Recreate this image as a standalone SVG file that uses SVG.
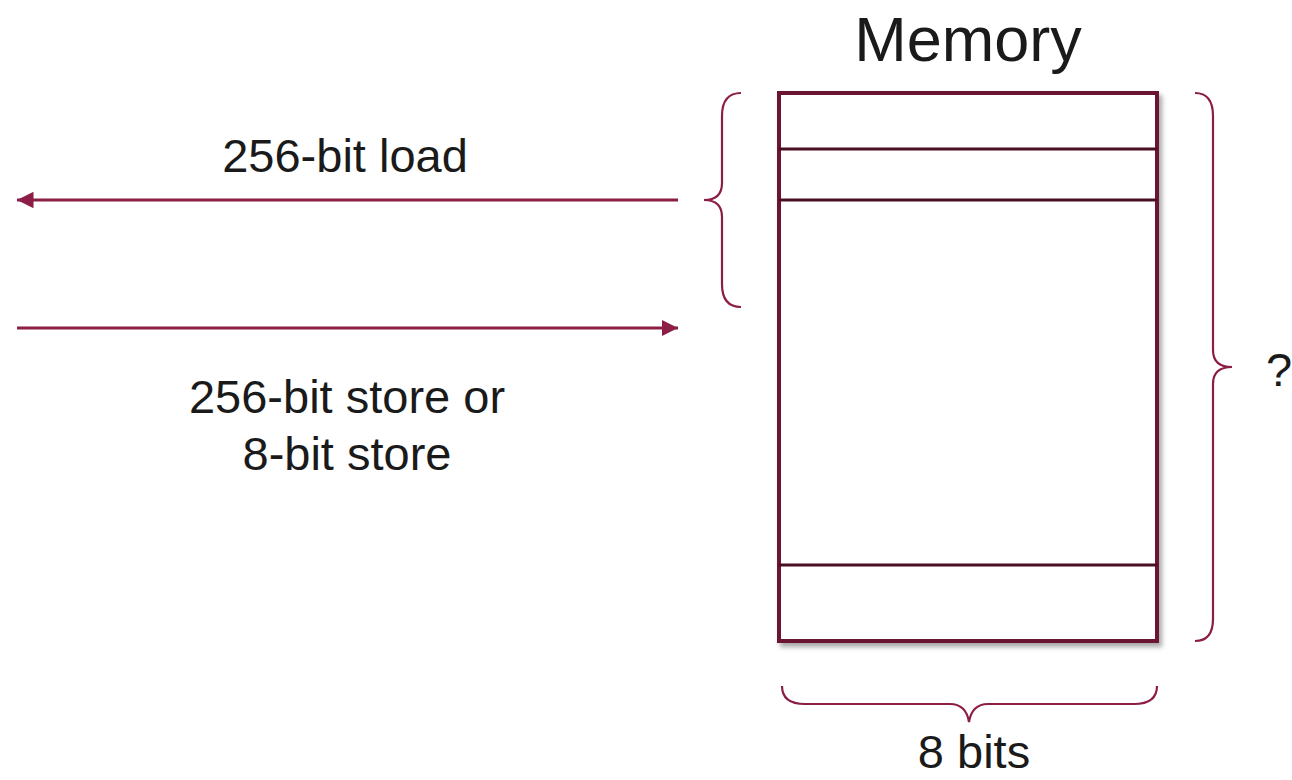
<svg xmlns="http://www.w3.org/2000/svg" width="1292" height="780" viewBox="0 0 1292 780">
  <style>
    .label { font-family: "Liberation Sans", Arial, sans-serif; fill: #1a1a1a; }
    .brace { fill: none; stroke: #8c1d47; stroke-width: 2.2; }
    .wire { fill: none; stroke: #8c1d47; stroke-width: 3; }
    .cell { fill: #ffffff; stroke: #6a1432; stroke-width: 4; }
    .row { stroke: #4a0f22; stroke-width: 3.2; }
  </style>
  <defs>
    <marker id="arrow" viewBox="0 0 10 10" refX="10" refY="5" markerWidth="5.5" markerHeight="6" markerUnits="strokeWidth" orient="auto">
      <path d="M0,0 L10,5 L0,10 z" fill="#8c1d47"/>
    </marker>
    <filter id="shadow" x="-5%" y="-5%" width="115%" height="115%">
      <feDropShadow dx="3" dy="4" stdDeviation="2.5" flood-color="#000" flood-opacity="0.35"/>
    </filter>
  </defs>

  <text class="label" x="968" y="61" font-size="63" text-anchor="middle">Memory</text>

  <!-- memory array -->
  <g id="memory">
    <rect class="cell" x="779" y="93" width="378" height="548" filter="url(#shadow)"/>
    <line class="row" x1="779" y1="149" x2="1157" y2="149"/>
    <line class="row" x1="779" y1="200" x2="1157" y2="200"/>
    <line class="row" x1="779" y1="565" x2="1157" y2="565"/>
  </g>

  <!-- braces -->
  <g id="load-brace">
    <path class="brace" d="M741,93 C728,93 722,101 722,116 L722,183 C722,194 716,200 704,200 C716,200 722,206 722,217 L722,284 C722,299 728,307 741,307"/>
  </g>
  <g id="height-brace">
    <path class="brace" d="M1195,93 C1207,93 1213,101 1213,116 L1213,350 C1213,361 1219,367 1232,367 C1219,367 1213,373 1213,384 L1213,619 C1213,634 1207,641 1195,641"/>
    <text class="label" x="1279" y="386" font-size="47" text-anchor="middle">?</text>
  </g>
  <g id="width-brace">
    <path class="brace" d="M782,686 C782,698 790,704 805,704 L950,704 C961,704 967,710 969,722 C971,710 977,704 988,704 L1134,704 C1149,704 1157,698 1157,686"/>
    <text class="label" x="974" y="768" font-size="47" text-anchor="middle">8 bits</text>
  </g>

  <!-- connectors -->
  <g id="connectors">
    <line class="wire" x1="678" y1="200" x2="17" y2="200" marker-end="url(#arrow)"/>
    <line class="wire" x1="17" y1="328" x2="678" y2="328" marker-end="url(#arrow)"/>
  </g>

  <g id="load-label">
    <text class="label" x="345" y="172" font-size="47" text-anchor="middle">256-bit load</text>
  </g>
  <g id="store-label">
    <text class="label" x="347" y="413" font-size="47" text-anchor="middle">256-bit store or</text>
    <text class="label" x="347" y="470" font-size="47" text-anchor="middle">8-bit store</text>
  </g>
</svg>
